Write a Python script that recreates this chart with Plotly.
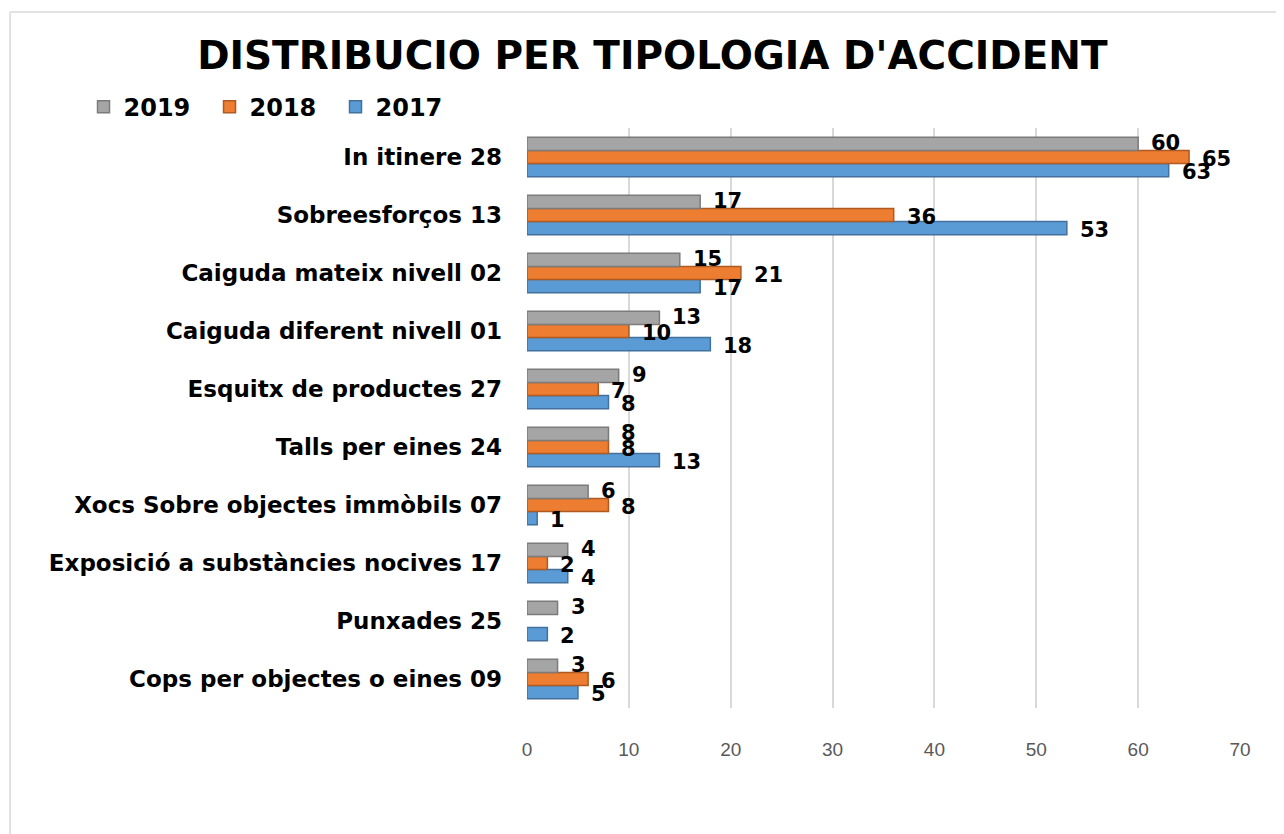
import plotly.graph_objects as go

categories = [
    "In itinere 28",
    "Sobreesforços 13",
    "Caiguda mateix nivell 02",
    "Caiguda diferent nivell 01",
    "Esquitx de productes 27",
    "Talls per eines 24",
    "Xocs Sobre objectes immòbils 07",
    "Exposició a substàncies nocives 17",
    "Punxades 25",
    "Cops per objectes o eines 09",
]
v2019 = [60, 17, 15, 13, 9, 8, 6, 4, 3, 3]
v2018 = [65, 36, 21, 10, 7, 8, 8, 2, None, 6]
v2017 = [63, 53, 17, 18, 8, 13, 1, 4, 2, 5]
x_ticks = [0, 10, 20, 30, 40, 50, 60, 70]

# (name, values, fill, edge, label vertical shift in px)
series = [
    ("2017", v2017, "#5b9bd5", "#41719c", -15),
    ("2018", v2018, "#ed7d31", "#ae5a21", -2),
    ("2019", v2019, "#a5a5a5", "#7b7b7b", 14),
]

fig = go.Figure()
annotations = []
for name, vals, col, edge, ys in series:
    fig.add_trace(go.Bar(
        y=categories, x=vals, name=name, orientation="h",
        marker=dict(color=col, line=dict(color=edge, width=1.5)),
        cliponaxis=False,
    ))
    for cat, v in zip(categories, vals):
        if v is None:
            continue
        annotations.append(dict(
            x=v, y=cat, xref="x", yref="y", text=str(v), showarrow=False,
            xanchor="left", yanchor="middle", xshift=11, yshift=ys,
            font=dict(family="DejaVu Sans", size=21, color="#000000", weight="bold"),
        ))

W, H = 1276, 826
L, T, PW, PH = 519, 120, 713, 580

fig.update_layout(
    width=W, height=H,
    paper_bgcolor="white", plot_bgcolor="white",
    barmode="group", bargap=0.32, bargroupgap=0,
    margin=dict(l=L, r=W - L - PW, t=T, b=H - T - PH),
    title=dict(text="DISTRIBUCIO PER TIPOLOGIA D'ACCIDENT",
               x=0.505, xanchor="center", y=0.943, yanchor="middle",
               font=dict(family="DejaVu Sans", size=39, color="#000000", weight="bold")),
    legend=dict(orientation="h", traceorder="reversed",
                x=-0.622, xanchor="left", y=1.036, yanchor="middle",
                font=dict(family="DejaVu Sans", size=24, color="#000000", weight="bold"),
                itemwidth=30, entrywidth=81, entrywidthmode="pixels",
                bgcolor="rgba(0,0,0,0)"),
    xaxis=dict(range=[0, 70], tickvals=x_ticks, showgrid=True,
               gridcolor="#d9d9d9", gridwidth=1.5, zeroline=False,
               showline=False, ticks="", ticklabelstandoff=28,
               tickfont=dict(family="Liberation Sans Narrow, Liberation Sans", size=19, color="#595959")),
    yaxis=dict(categoryorder="array", categoryarray=categories[::-1],
               showgrid=False, zeroline=False, showline=False, ticks="",
               ticklabelstandoff=24,
               tickfont=dict(family="DejaVu Sans", size=23, color="#000000", weight="bold")),
    annotations=annotations,
    shapes=[
        dict(type="line", xref="paper", yref="paper", x0=-0.725, x1=1.1,
             y0=1.2, y1=1.2, line=dict(color="#d9d9d9", width=1.5)),
        dict(type="line", xref="paper", yref="paper", x0=-0.725, x1=-0.725,
             y0=1.2, y1=-0.3, line=dict(color="#d9d9d9", width=1.5)),
    ],
)

fig.write_html("out.html")
